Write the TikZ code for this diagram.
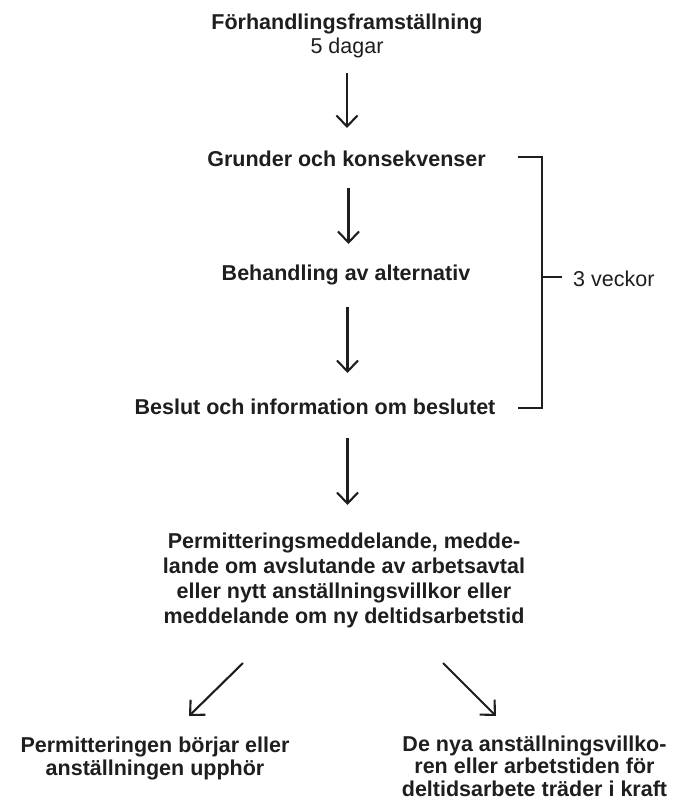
\documentclass[tikz,border=0pt]{standalone}
\usepackage{fontspec}
\setmainfont{Liberation Sans}
\usetikzlibrary{arrows.meta}
\definecolor{ink}{HTML}{1E1E1E}
\begin{document}
\begin{tikzpicture}[x=1pt,y=-1pt,
  lbl/.style={inner sep=0pt, anchor=base, text=ink, align=center,
    font=\fontsize{21.5}{24.5}\selectfont\bfseries},
  plain/.style={inner sep=0pt, anchor=base, text=ink,
    font=\fontsize{21.5}{24.5}\selectfont},
  arr/.style={draw=ink, line width=2.1pt, -{Straight Barb[length=11pt,width=21pt,line width=2.1pt]}},
  brk/.style={draw=ink, line width=2.1pt}]
\useasboundingbox (0,0) rectangle (678,800);
% text nodes (base = baseline of last line)
\node[lbl] (t0) at (347,30) {Förhandlingsframställning};
\node[plain] (d5) at (347,54) {5 dagar};
\node[lbl] (gr) at (346.5,166) {Grunder och konsekvenser};
\node[lbl] (be) at (346,280) {Behandling av alternativ};
\node[lbl] (bs) at (315,414) {Beslut och information om beslutet};
\node[lbl, font=\fontsize{21.5}{25}\selectfont\bfseries] (pm) at (344,623) {Permitteringsmeddelande, medde-\\lande om avslutande av arbetsavtal\\eller nytt anställningsvillkor eller\\meddelande om ny deltidsarbetstid};
\node[lbl, font=\fontsize{21.5}{23.5}\selectfont\bfseries] (bl) at (155,775.5) {Permitteringen börjar eller\\anställningen upphör};
\node[lbl, font=\fontsize{21.5}{22.5}\selectfont\bfseries] (br) at (534.5,796) {De nya anställningsvillko-\\ren eller arbetstiden för\\deltidsarbete träder i kraft};
\node[plain, anchor=base west] (vk) at (573,286) {3 veckor};
% arrow end points
\coordinate (a1s) at (347,72.5);  \coordinate (a1e) at (347,128);
\coordinate (a2s) at (348.5,188); \coordinate (a2e) at (348.5,244);
\coordinate (a3s) at (347.5,307); \coordinate (a3e) at (347.5,373);
\coordinate (a4s) at (347.5,438); \coordinate (a4e) at (347.5,505);
\coordinate (l5s) at (243,663);   \coordinate (l5e) at (189,716);
\coordinate (r5s) at (443,663);   \coordinate (r5e) at (496,716);
\draw[arr] (a1s) -- (a1e);
\draw[arr] (a2s) -- (a2e);
\draw[arr] (a3s) -- (a3e);
\draw[arr] (a4s) -- (a4e);
\draw[arr] (l5s) -- (l5e);
\draw[arr] (r5s) -- (r5e);
% bracket
\coordinate (bt) at (518,157); \coordinate (bb) at (518,408);
\coordinate (bm) at (541.7,277); \coordinate (bme) at (562,277);
\draw[brk] (bt) -| (bm) |- (bb);
\draw[brk] (bm) -- (bme);
\end{tikzpicture}
\end{document}
